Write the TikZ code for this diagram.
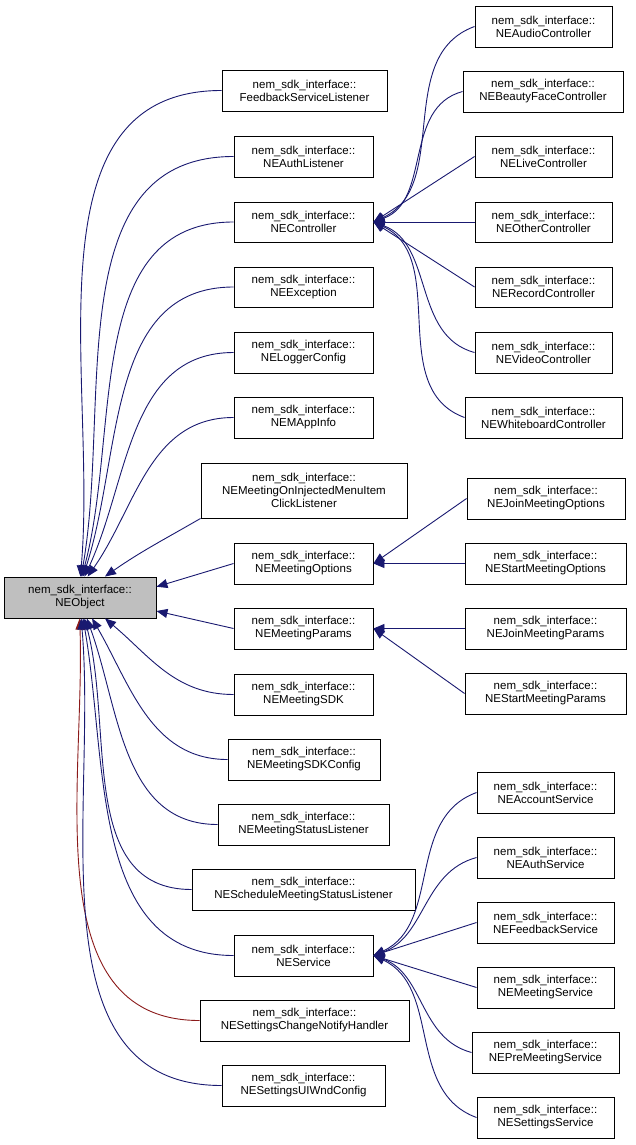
\documentclass[tikz,border=0pt]{standalone}
\usepackage{fontspec}
\setmainfont{Liberation Sans}
\usetikzlibrary{arrows.meta}
\definecolor{eb}{HTML}{191970}
\definecolor{er}{HTML}{8B1A1A}
\tikzset{
 box/.style={draw=black,line width=0.9pt,fill=white,inner sep=0pt,align=center,font=\fontsize{11.5}{13}\selectfont},
 edge/.style={draw=eb,line width=0.9pt,{Triangle[width=9pt,length=11pt,fill=eb]}-},
 redge/.style={draw=er,line width=0.9pt,{Triangle[width=9pt,length=11pt,fill=er]}-}
}
\newcommand{\bx}[6]{\node[box,minimum width=#4,minimum height=#5] (#1) at (#2,#3) {#6};}
\begin{document}
\begin{tikzpicture}[x=1pt,y=-1pt]
\useasboundingbox (0,0) rectangle (635,1145);
\node[box,fill=gray!50,minimum width=152,minimum height=41] (root) at (80,597.5) {nem\_sdk\_interface::\\NEObject};
% middle column
\bx{fb}{304.5}{90.5}{165}{41}{nem\_sdk\_interface::\\FeedbackServiceListener}
\bx{al}{303.5}{156.5}{139}{41}{nem\_sdk\_interface::\\NEAuthListener}
\bx{ctl}{303.5}{222}{139}{40}{nem\_sdk\_interface::\\NEController}
\bx{exc}{303.5}{287}{139}{40}{nem\_sdk\_interface::\\NEException}
\bx{log}{303.5}{352.5}{139}{41}{nem\_sdk\_interface::\\NELoggerConfig}
\bx{app}{303.5}{417.5}{139}{41}{nem\_sdk\_interface::\\NEMAppInfo}
\bx{inj}{304}{490.5}{206}{55}{nem\_sdk\_interface::\\NEMeetingOnInjectedMenuItem\\ClickListener}
\bx{opt}{303.5}{563.5}{139}{41}{nem\_sdk\_interface::\\NEMeetingOptions}
\bx{par}{303.5}{628.5}{139}{41}{nem\_sdk\_interface::\\NEMeetingParams}
\bx{sdk}{303.5}{694.5}{139}{41}{nem\_sdk\_interface::\\NEMeetingSDK}
\bx{sdkc}{304}{759.5}{152}{41}{nem\_sdk\_interface::\\NEMeetingSDKConfig}
\bx{msl}{303.5}{824.5}{171}{41}{nem\_sdk\_interface::\\NEMeetingStatusListener}
\bx{sms}{303.5}{889.5}{223}{41}{nem\_sdk\_interface::\\NEScheduleMeetingStatusListener}
\bx{svc}{303.5}{955.5}{139}{41}{nem\_sdk\_interface::\\NEService}
\bx{scn}{304.5}{1020.5}{209}{41}{nem\_sdk\_interface::\\NESettingsChangeNotifyHandler}
\bx{ui}{303.5}{1085.5}{163}{41}{nem\_sdk\_interface::\\NESettingsUIWndConfig}
% right column
\bx{aud}{543.5}{26.5}{137}{41}{nem\_sdk\_interface::\\NEAudioController}
\bx{bea}{543}{91.5}{160}{41}{nem\_sdk\_interface::\\NEBeautyFaceController}
\bx{liv}{543.5}{156.5}{137}{41}{nem\_sdk\_interface::\\NELiveController}
\bx{oth}{543.5}{222}{137}{40}{nem\_sdk\_interface::\\NEOtherController}
\bx{rec}{543.5}{287}{137}{40}{nem\_sdk\_interface::\\NERecordController}
\bx{vid}{543.5}{352.5}{137}{41}{nem\_sdk\_interface::\\NEVideoController}
\bx{wb}{543.5}{417.5}{157}{41}{nem\_sdk\_interface::\\NEWhiteboardController}
\bx{jmo}{546}{498.5}{158}{41}{nem\_sdk\_interface::\\NEJoinMeetingOptions}
\bx{smo}{545.5}{563.5}{161}{41}{nem\_sdk\_interface::\\NEStartMeetingOptions}
\bx{jmp}{545.5}{628.5}{161}{41}{nem\_sdk\_interface::\\NEJoinMeetingParams}
\bx{smp}{545.5}{693.5}{161}{41}{nem\_sdk\_interface::\\NEStartMeetingParams}
\bx{acc}{545.5}{792.5}{137}{41}{nem\_sdk\_interface::\\NEAccountService}
\bx{aus}{545.5}{857.5}{137}{41}{nem\_sdk\_interface::\\NEAuthService}
\bx{fbs}{545.5}{922.5}{137}{41}{nem\_sdk\_interface::\\NEFeedbackService}
\bx{mts}{545.5}{987.5}{137}{41}{nem\_sdk\_interface::\\NEMeetingService}
\bx{pms}{545.5}{1052.5}{147}{41}{nem\_sdk\_interface::\\NEPreMeetingService}
\bx{sts}{545.5}{1117.5}{137}{41}{nem\_sdk\_interface::\\NESettingsService}
% edges to root
\draw[edge] (root.89) to[out=85,in=180] (fb.west);
\draw[edge] (root.87) to[out=80,in=180] (al.west);
\draw[edge] (root.85) to[out=75,in=180] (ctl.west);
\draw[edge] (root.82) to[out=72,in=180] (exc.west);
\draw[edge] (root.78) to[out=65,in=180] (log.west);
\draw[edge] (root.70) to[out=55,in=180] (app.west);
\draw[edge] (root.40) to[out=35,in=210] (inj.south west);
\draw[edge] (root.8) -- (opt.west);
\draw[edge] (root.-10) -- (par.west);
\draw[edge] (root.-40) to[out=-40,in=180] (sdk.west);
\draw[edge] (root.-60) to[out=-60,in=180] (sdkc.west);
\draw[edge] (root.-72) to[out=-70,in=180] (msl.west);
\draw[edge] (root.-78) to[out=-75,in=180] (sms.west);
\draw[edge] (root.-82) to[out=-80,in=180] (svc.west);
\draw[redge] (root.-91) to[out=-88,in=180] (scn.west);
\draw[edge] (root.-87) to[out=-85,in=180] (ui.west);
% controller
\draw[edge] (ctl.east) to[out=25,in=200] (aud.west);
\draw[edge] (ctl.east) to[out=20,in=195] (bea.west);
\draw[edge] (ctl.east) -- (liv.west);
\draw[edge] (ctl.east) -- (oth.west);
\draw[edge] (ctl.east) -- (rec.west);
\draw[edge] (ctl.east) to[out=-20,in=165] (vid.west);
\draw[edge] (ctl.east) to[out=-25,in=160] (wb.west);
% options/params
\draw[edge] (opt.east) -- (jmo.west);
\draw[edge] (opt.east) -- (smo.west);
\draw[edge] (par.east) -- (jmp.west);
\draw[edge] (par.east) -- (smp.west);
% service
\draw[edge] (svc.east) to[out=25,in=200] (acc.west);
\draw[edge] (svc.east) to[out=20,in=195] (aus.west);
\draw[edge] (svc.east) -- (fbs.west);
\draw[edge] (svc.east) -- (mts.west);
\draw[edge] (svc.east) to[out=-20,in=165] (pms.west);
\draw[edge] (svc.east) to[out=-25,in=160] (sts.west);
\end{tikzpicture}
\end{document}
